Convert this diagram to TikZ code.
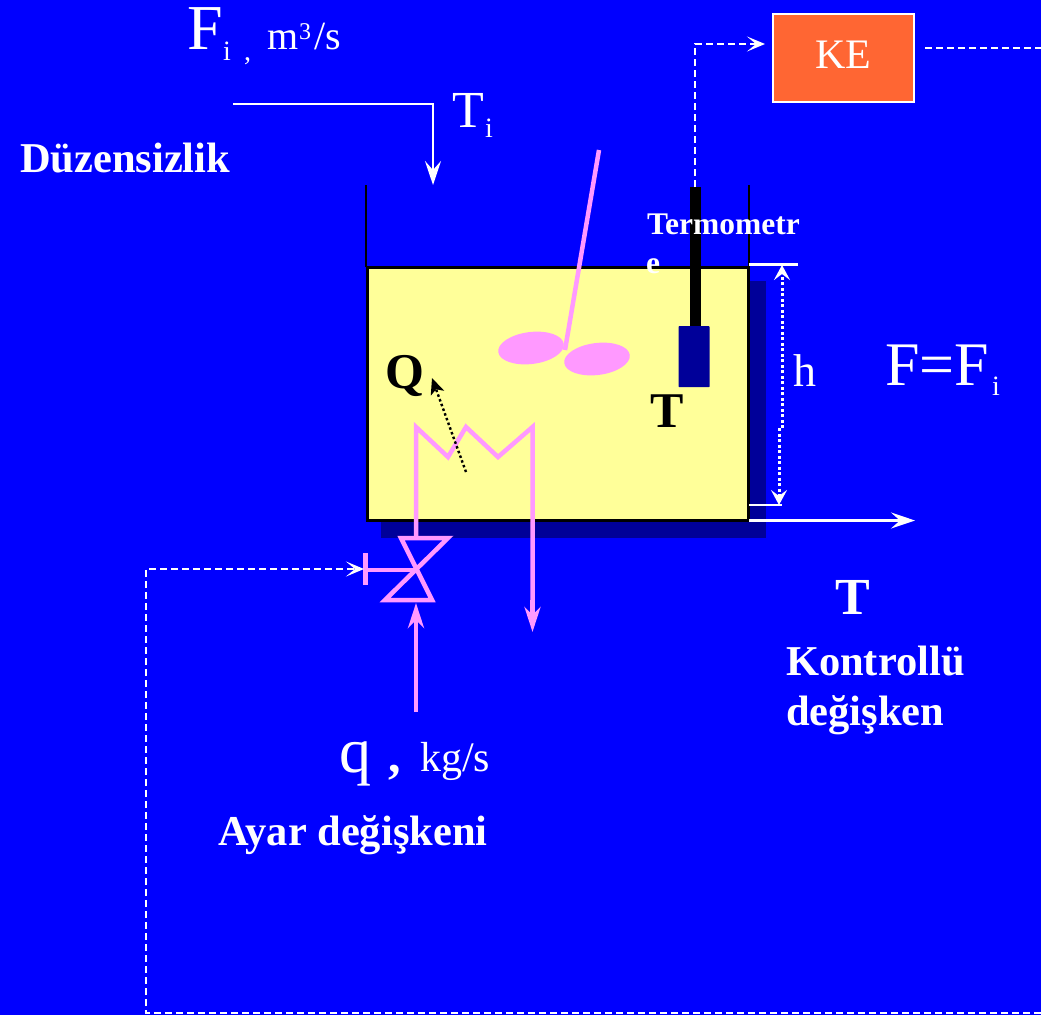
\documentclass[tikz,border=0pt]{standalone}
\usepackage{fontspec}
\setmainfont{Liberation Serif}
\usetikzlibrary{arrows.meta}
\definecolor{bg}{RGB}{0,0,255}
\definecolor{pinkish}{RGB}{255,153,255}
\definecolor{liquid}{RGB}{255,255,153}
\definecolor{navyshade}{RGB}{0,0,153}
\definecolor{kebox}{RGB}{255,102,51}
\newcommand{\fs}[1]{\fontsize{#1}{#1}\selectfont}
\tikzset{x=1pt,y=-1pt,
 txt/.style={inner sep=0pt,outer sep=0pt,anchor=base west,text=white},
 btxt/.style={txt,font=\bfseries\fs{42.5}},
 ktxt/.style={inner sep=0pt,outer sep=0pt,anchor=base west,text=black,font=\bfseries\fs{50}},
 wline/.style={draw=white,line width=2.4pt},
 warrow/.style={wline,-{Stealth[length=24pt,width=16pt,inset=9pt]}},
 wdash/.style={draw=white,line width=2.2pt,dash pattern=on 7pt off 4pt},
 dasharrow/.style={wdash,-{Stealth[length=18pt,width=15pt,inset=9pt]}},
 pipe/.style={draw=pinkish,line width=4.5pt},
 pipethin/.style={draw=pinkish,line width=4.5pt},
 parrow/.style={pipethin,-{Stealth[length=25pt,width=16pt,inset=8pt]}},
 dotw/.style={draw=white,line width=3pt,dash pattern=on 3pt off 2.5pt,-{Stealth[length=15pt,width=16pt,inset=6pt]}},
}
\begin{document}
\begin{tikzpicture}
\useasboundingbox (0,0) rectangle (1041,1015);
\fill[bg] (0,0) rectangle (1041,1015);
% shadow
\fill[navyshade] (381,281) rectangle (766,538);
% liquid
\node[draw=black,line width=3pt,fill=liquid,minimum width=381pt,minimum height=253pt,inner sep=0pt,outer sep=0pt,anchor=north west] (tank) at (367,267) {};
% walls
\coordinate (wlt) at (366,185);
\coordinate (wrt) at (749,185);
\draw[black,line width=2pt] (wlt) -- (366,267);
\draw[black,line width=2pt] (wrt) -- (749,267);
% stirrer
\coordinate (shafttop) at (599,150);
\coordinate (hub) at (565,350);
\draw[pipe] (shafttop) -- (hub);
\fill[pinkish,rotate around={7:(531,348)}] (531,348) ellipse (33pt and 16pt);
\fill[pinkish,rotate around={7:(597,359)}] (597,359) ellipse (33pt and 16pt);
% thermometer
\node[fill=black,minimum width=11pt,minimum height=140pt,inner sep=0pt,anchor=north] (stem) at (695,187) {};
\node[fill=navyshade,rounded corners=0.7pt,minimum width=31pt,minimum height=61pt,inner sep=0pt,anchor=north] (bulb) at (694,326) {};
% feed
\coordinate (fstart) at (233,104);
\coordinate (fcorner) at (433,104);
\coordinate (fend) at (433,185);
\draw[warrow] (fstart) -- (fcorner) -- (fend);
% outlet
\coordinate (ostart) at (749,520.5);
\coordinate (oend) at (915,520.5);
\draw[warrow] (ostart) -- (oend);
% level ticks
\coordinate (tt1) at (749,264.5);
\coordinate (tt2) at (798,264.5);
\coordinate (tb1) at (749,505);
\coordinate (tb2) at (782,505);
\draw[wline] (tt1) -- (tt2);
\draw[wline] (tb1) -- (tb2);
\coordinate (hm1) at (782,428);
\coordinate (hm2) at (779,428);
\draw[dotw] (hm1) -- (782,265);
\draw[dotw] (hm2) -- (779,505);
% coil
\coordinate (c0) at (416,538);
\coordinate (c1) at (416,427);
\coordinate (c2) at (448,457);
\coordinate (c3) at (466,427);
\coordinate (c4) at (498,457);
\coordinate (c5) at (532.5,427);
\coordinate (c6) at (532.5,632);
\draw[pipethin,line join=miter] (c0) -- (c1) -- (c2) -- (c3) -- (c4) -- (c5) -- (532.5,615);
\draw[parrow] (532.5,600) -- (c6);
% Q arrow
\coordinate (q1) at (466,472);
\coordinate (q2) at (432,378);
\draw[black,line width=2.4pt,dash pattern=on 2.5pt off 2.5pt,-{Stealth[length=16pt,width=14pt,inset=4pt]}] (q1) -- (q2);
% valve
\coordinate (v1) at (401,538);
\coordinate (v2) at (448,538);
\coordinate (v3) at (385,600);
\coordinate (v4) at (432,600);
\coordinate (vc) at (416,570);
\coordinate (vs) at (366,570);
\draw[pipe,line join=miter] (v1) -- (v2) -- (v3) -- (v4) -- cycle;
\draw[pipe] (vc) -- (vs);
\draw[pipe] (365.5,553) -- (365.5,585);
% steam
\coordinate (sb) at (416,712);
\coordinate (st) at (416,603);
\draw[parrow] (sb) -- (st);
% control loop
\node[draw=white,line width=2.4pt,fill=kebox,minimum width=141pt,minimum height=88pt,inner sep=0pt,outer sep=0pt,anchor=north west,text=white,font=\fs{42}] (ke) at (773,14) {\raisebox{6pt}{KE}};
\coordinate (tout) at (695,187);
\coordinate (tup) at (695,44);
\coordinate (tend) at (765,44);
\draw[dasharrow] (tout) -- (tup) -- (tend);
\coordinate (kout) at (1041,48);
\coordinate (kstart) at (925,48);
\draw[wdash] (kstart) -- (kout);
\coordinate (lr) at (1041,1013);
\coordinate (ll) at (146,1013);
\coordinate (lt) at (146,569);
\coordinate (lv) at (364,569);
\draw[dasharrow] (lr) -- (ll) -- (lt) -- (lv);
% texts
\node[txt,font=\fs{64}] (fi) at (187,49) {F};
\node[txt,font=\fs{28}] (fisub) at (223,60) {i};
\node[txt,font=\fs{28}] (ficomma) at (244,60) {,};
\node[txt,font=\fs{40}] (unit) at (267,49) {m};
\node[txt,font=\fs{24}] (unitsup) at (299,39) {3};
\node[txt,font=\fs{40}] (unit2) at (314,49) {/s};
\node[txt,font=\fs{52}] (ti) at (452,127) {T};
\node[txt,font=\fs{28}] (tisub) at (485,137) {i};
\node[btxt] (duz) at (20,172) {Düzensizlik};
\node[txt,font=\bfseries\fs{31.5}] (term1) at (647,234) {Termometr};
\node[txt,font=\bfseries\fs{31.5}] (term2) at (646,273) {e};
\node[ktxt] (qq) at (385,388) {Q};
\node[ktxt] (tt) at (650,427) {T};
\node[txt,font=\fs{46}] (hh) at (793,386) {h};
\node[txt,font=\fs{62}] (ffi) at (885,385) {F=F};
\node[txt,font=\fs{28}] (ffisub) at (992,395) {i};
\node[txt,font=\bfseries\fs{52},text=white] (tb) at (835,614) {T};
\node[btxt] (kon) at (786,675) {Kontrollü};
\node[btxt] (deg) at (786,725) {değişken};
\node[txt,font=\fs{64}] (q) at (339,772) {q};
\node[txt,font=\bfseries\fs{50}] (qcomma) at (388,772) {,};
\node[txt,font=\fs{42}] (kg) at (420,771) {kg/s};
\node[btxt] (ayar) at (218,845) {Ayar değişkeni};
\end{tikzpicture}
\end{document}
